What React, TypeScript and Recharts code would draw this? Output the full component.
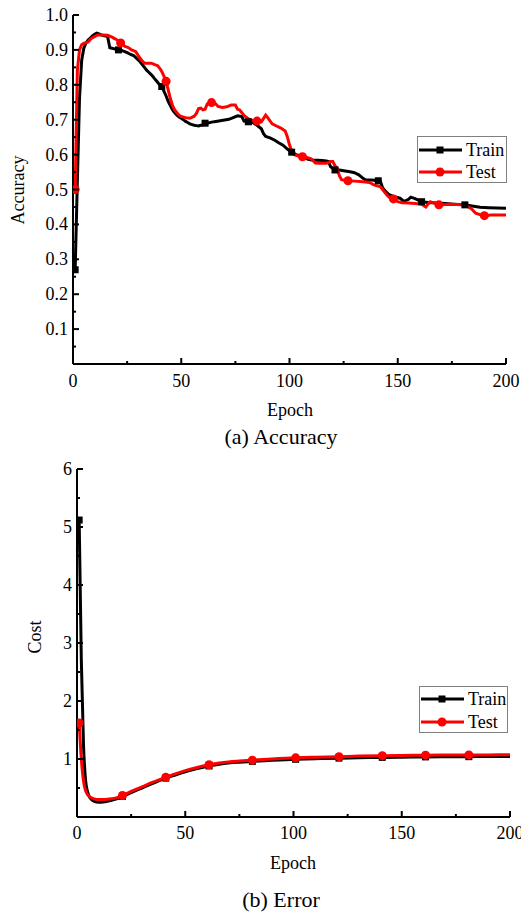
import React from 'react';
import { LineChart, Line, XAxis, YAxis, Legend } from 'recharts';

// ---------- Data: (a) Accuracy ----------
const accTrainEpochs = [1,2,3,4,5,6,7,8,9,10,11,12,13,14,15,16,17,18,19,20,21,22,23,24,25,26,27,28,29,30,31,32,33,34,35,36,37,38,39,40,41,42,43,44,45,46,47,48,49,50,51,52,53,54,55,56,57,58,59,60,61,62,64,66,68,70,72,74,76,78,79,81,83,85,87,88,89,91,93,95,97,99,101,103,105,107,109,111,113,115,117,118,119,121,123,125,128,130,132,134,135,138,141,142,143,144,146,148,151,153,155,156,158,160,161,164,168,172,176,181,185,188,192,196,200];
const accTrainValues = [0.27,0.52,0.76,0.87,0.905,0.92,0.928,0.934,0.94,0.945,0.948,0.946,0.943,0.941,0.94,0.938,0.906,0.905,0.903,0.902,0.9,0.9,0.897,0.895,0.892,0.889,0.886,0.884,0.878,0.872,0.866,0.858,0.85,0.842,0.836,0.83,0.823,0.815,0.808,0.8,0.795,0.782,0.768,0.752,0.74,0.728,0.72,0.713,0.708,0.704,0.7,0.695,0.692,0.688,0.686,0.684,0.683,0.682,0.684,0.685,0.69,0.69,0.693,0.695,0.697,0.699,0.701,0.706,0.711,0.709,0.696,0.694,0.692,0.684,0.674,0.66,0.652,0.648,0.642,0.634,0.627,0.616,0.607,0.6,0.596,0.59,0.586,0.584,0.584,0.583,0.582,0.58,0.565,0.556,0.556,0.554,0.551,0.548,0.542,0.532,0.528,0.527,0.525,0.523,0.505,0.497,0.485,0.48,0.475,0.466,0.472,0.478,0.474,0.468,0.465,0.463,0.461,0.46,0.458,0.456,0.452,0.449,0.448,0.447,0.446];
const accTestEpochs = [1,2,3,4,5,6,7,8,9,10,11,12,14,16,18,19,20,21,22,23,24,25,26,27,28,29,30,31,32,33,35,36,37,38,39,40,41,42,43,44,45,46,47,48,49,50,52,54,56,57,58,59,60,61,62,64,66,67,69,71,73,75,76,77,78,79,81,83,85,87,89,90,92,94,96,98,99,100,101,102,104,106,108,110,112,114,117,119,120,121,122,123,124,127,130,134,137,139,142,143,145,146,148,150,152,155,158,161,163,164,165,167,169,172,174,177,180,182,184,186,188,190,193,196,200];
const accTestValues = [0.5,0.84,0.9,0.915,0.919,0.921,0.923,0.93,0.935,0.938,0.942,0.943,0.943,0.942,0.937,0.933,0.93,0.925,0.92,0.915,0.91,0.908,0.905,0.9,0.898,0.895,0.885,0.876,0.868,0.862,0.862,0.862,0.86,0.857,0.855,0.848,0.838,0.825,0.81,0.785,0.76,0.74,0.728,0.72,0.713,0.709,0.706,0.704,0.71,0.718,0.732,0.733,0.728,0.73,0.745,0.749,0.745,0.738,0.735,0.737,0.742,0.742,0.73,0.728,0.72,0.712,0.702,0.698,0.696,0.694,0.713,0.705,0.688,0.682,0.676,0.668,0.651,0.628,0.61,0.6,0.596,0.594,0.592,0.588,0.576,0.575,0.575,0.58,0.58,0.568,0.562,0.54,0.528,0.525,0.524,0.522,0.52,0.513,0.508,0.5,0.484,0.478,0.473,0.465,0.462,0.461,0.46,0.458,0.45,0.458,0.465,0.46,0.456,0.457,0.458,0.457,0.456,0.452,0.445,0.432,0.428,0.425,0.427,0.427,0.427];
const accTrainMarkers = [1,21,41,61,81,101,121,141,161,181];
const accTestMarkers = [1,22,43,64,85,106,127,148,169,190];

// ---------- Data: (b) Error ----------
const costTrainEpochs = [1,2,3,4,5,6,7,8,10,12,14,16,18,21,25,30,35,41,45,50,55,61,65,70,75,81,90,101,110,121,130,141,150,161,170,181,190,200];
const costTrainValues = [5.12,2.7,1.25,0.62,0.42,0.33,0.29,0.27,0.255,0.258,0.27,0.29,0.31,0.355,0.42,0.5,0.58,0.67,0.72,0.78,0.83,0.88,0.905,0.93,0.945,0.96,0.98,0.995,1.005,1.015,1.02,1.028,1.032,1.036,1.038,1.04,1.042,1.044];
const costTestEpochs = [1,2,3,4,5,6,7,8,10,12,14,16,18,21,25,30,35,41,45,50,55,61,65,70,75,81,90,101,110,121,130,141,150,161,170,181,190,200];
const costTestValues = [1.62,1.0,0.62,0.45,0.38,0.345,0.325,0.31,0.3,0.3,0.305,0.315,0.33,0.37,0.44,0.52,0.6,0.685,0.74,0.8,0.85,0.9,0.925,0.95,0.965,0.98,1.0,1.02,1.03,1.04,1.05,1.058,1.062,1.066,1.068,1.07,1.071,1.072];
const costMarkers = [1,21,41,61,81,101,121,141,161,181];

// ---------- Ticks ----------
const epochTicks = [0,25,50,75,100,125,150,175,200];
const epochLabels = ['0','','50','','100','','150','','200'];
const accTicks = [0,0.05,0.1,0.15,0.2,0.25,0.3,0.35,0.4,0.45,0.5,0.55,0.6,0.65,0.7,0.75,0.8,0.85,0.9,0.95,1.0];
const accLabels = ['','','0.1','','0.2','','0.3','','0.4','','0.5','','0.6','','0.7','','0.8','','0.9','','1.0'];
const costTicks = [0,0.5,1,1.5,2,2.5,3,3.5,4,4.5,5,5.5,6];
const costLabels = ['','','1','','2','','3','','4','','5','','6'];
const seriesNames = ['Train','Test'];

const FONT = "'Liberation Serif', 'Times New Roman', serif";

const zip = (xs: number[], ys: number[]) => xs.map((e, i) => ({ epoch: e, value: ys[i] }));
const accTrainData = zip(accTrainEpochs, accTrainValues);
const accTestData = zip(accTestEpochs, accTestValues);
const costTrainData = zip(costTrainEpochs, costTrainValues);
const costTestData = zip(costTestEpochs, costTestValues);

const makeXTick = (ticks: number[], labels: string[], dy: number) => (props: any) => {
  const { x, y, payload } = props;
  const idx = ticks.indexOf(payload.value);
  const label = idx >= 0 ? labels[idx] : '';
  const major = label !== '';
  return (
    <g>
      <line x1={x} x2={x} y1={y} y2={y - (major ? 6 : 3)} stroke="#000" strokeWidth={2} />
      {major && (
        <text x={x} y={y + dy} textAnchor="middle" dominantBaseline="central" fontFamily={FONT} fontSize={18} fill="#000">
          {label}
        </text>
      )}
    </g>
  );
};

const makeYTick = (ticks: number[], labels: string[]) => (props: any) => {
  const { x, y, payload } = props;
  const idx = ticks.indexOf(payload.value);
  const label = idx >= 0 ? labels[idx] : '';
  const major = idx % 2 === 0;
  return (
    <g>
      <line x1={x} x2={x + (major ? 6 : 3)} y1={y} y2={y} stroke="#000" strokeWidth={2} />
      {label !== '' && (
        <text x={x - 5} y={y} textAnchor="end" dominantBaseline="central" fontFamily={FONT} fontSize={18} fill="#000">
          {label}
        </text>
      )}
    </g>
  );
};

const squareDot = (markers: number[]) => (p: any) => {
  if (!markers.includes(p.payload.epoch)) return <g key={`s-${p.index}`} />;
  return <rect key={`s-${p.index}`} x={p.cx - 3.5} y={p.cy - 3.5} width={7} height={7} fill="#000" />;
};
const circleDot = (markers: number[]) => (p: any) => {
  if (!markers.includes(p.payload.epoch)) return <g key={`c-${p.index}`} />;
  return <circle key={`c-${p.index}`} cx={p.cx} cy={p.cy} r={4.5} fill="#ff0000" />;
};

const LegendBox = ({ w, h, r1, r2 }: { w: number; h: number; r1: number; r2: number }) => (
  <svg width={w} height={h} style={{ display: 'block' }}>
    <rect x={0.5} y={0.5} width={w - 1} height={h - 1} fill="#fff" stroke="#808080" strokeWidth={1} />
    <line x1={2} x2={45} y1={r1} y2={r1} stroke="#000" strokeWidth={3} />
    <rect x={23 - 3.5} y={r1 - 3.5} width={7} height={7} fill="#000" />
    <text x={49} y={r1} dominantBaseline="central" fontFamily={FONT} fontSize={18} fill="#000">{seriesNames[0]}</text>
    <line x1={2} x2={45} y1={r2} y2={r2} stroke="#ff0000" strokeWidth={3} />
    <circle cx={23} cy={r2} r={4.5} fill="#ff0000" />
    <text x={49} y={r2} dominantBaseline="central" fontFamily={FONT} fontSize={18} fill="#000">{seriesNames[1]}</text>
  </svg>
);

const textStyle = (x: number, y: number, size: number, rotate = false): React.CSSProperties => ({
  position: 'absolute',
  left: x,
  top: y,
  transform: `translate(-50%, -50%)${rotate ? ' rotate(-90deg)' : ''}`,
  fontFamily: FONT,
  fontSize: size,
  color: '#000',
  whiteSpace: 'nowrap',
  lineHeight: 1,
});

export default function App() {
  return (
    <div style={{ position: 'absolute', left: 0, top: 0, width: 521, height: 914, background: '#fff', overflow: 'hidden' }}>
      {/* (a) Accuracy */}
      <div style={{ position: 'absolute', left: 0, top: 0 }}>
        <LineChart width={521} height={420} margin={{ top: 15, right: 15, left: 0, bottom: 0 }}>
          <XAxis
            dataKey="epoch"
            type="number"
            domain={[0, 200]}
            ticks={epochTicks}
            interval={0}
            height={56}
            tickSize={0}
            tickMargin={0}
            axisLine={{ stroke: '#000', strokeWidth: 2 }}
            tickLine={false}
            tick={makeXTick(epochTicks, epochLabels, 17)}
            allowDataOverflow
          />
          <YAxis
            type="number"
            domain={[0, 1]}
            ticks={accTicks}
            interval={0}
            width={73}
            tickSize={0}
            tickMargin={0}
            axisLine={{ stroke: '#000', strokeWidth: 2 }}
            tickLine={false}
            tick={makeYTick(accTicks, accLabels)}
            allowDataOverflow
          />
          <Line data={accTrainData} dataKey="value" name="Train" type="linear" stroke="#000" strokeWidth={3}
            dot={squareDot(accTrainMarkers)} activeDot={false} isAnimationActive={false} />
          <Line data={accTestData} dataKey="value" name="Test" type="linear" stroke="#ff0000" strokeWidth={3}
            dot={circleDot(accTestMarkers)} activeDot={false} isAnimationActive={false} />
          <Legend
            layout="horizontal"
            verticalAlign="middle"
            align="center"
            wrapperStyle={{ left: 417, top: 136, width: 90, height: 47 }}
            content={() => <LegendBox w={90} h={47} r1={14} r2={36} />}
          />
        </LineChart>
      </div>
      <div style={textStyle(18, 190, 18, true)}>Accuracy</div>
      <div style={textStyle(290, 410, 18)}>Epoch</div>
      <div style={textStyle(281, 437, 22)}>(a) Accuracy</div>

      {/* (b) Error */}
      <div style={{ position: 'absolute', left: 0, top: 450 }}>
        <LineChart width={521} height={464} margin={{ top: 19, right: 11, left: 0, bottom: 0 }}>
          <XAxis
            dataKey="epoch"
            type="number"
            domain={[0, 200]}
            ticks={epochTicks}
            interval={0}
            height={97}
            tickSize={0}
            tickMargin={0}
            axisLine={{ stroke: '#000', strokeWidth: 2 }}
            tickLine={false}
            tick={makeXTick(epochTicks, epochLabels, 16)}
            allowDataOverflow
          />
          <YAxis
            type="number"
            domain={[0, 6]}
            ticks={costTicks}
            interval={0}
            width={77}
            tickSize={0}
            tickMargin={0}
            axisLine={{ stroke: '#000', strokeWidth: 2 }}
            tickLine={false}
            tick={makeYTick(costTicks, costLabels)}
            allowDataOverflow
          />
          <Line data={costTrainData} dataKey="value" name="Train" type="monotone" stroke="#000" strokeWidth={3}
            dot={squareDot(costMarkers)} activeDot={false} isAnimationActive={false} />
          <Line data={costTestData} dataKey="value" name="Test" type="monotone" stroke="#ff0000" strokeWidth={3}
            dot={circleDot(costMarkers)} activeDot={false} isAnimationActive={false} />
          <Legend
            layout="horizontal"
            verticalAlign="middle"
            align="center"
            wrapperStyle={{ left: 419, top: 236, width: 89, height: 47 }}
            content={() => <LegendBox w={89} h={47} r1={13} r2={36} />}
          />
        </LineChart>
      </div>
      <div style={textStyle(35, 637, 18, true)}>Cost</div>
      <div style={textStyle(293, 863, 18)}>Epoch</div>
      <div style={textStyle(281, 900, 22)}>(b) Error</div>
    </div>
  );
}
